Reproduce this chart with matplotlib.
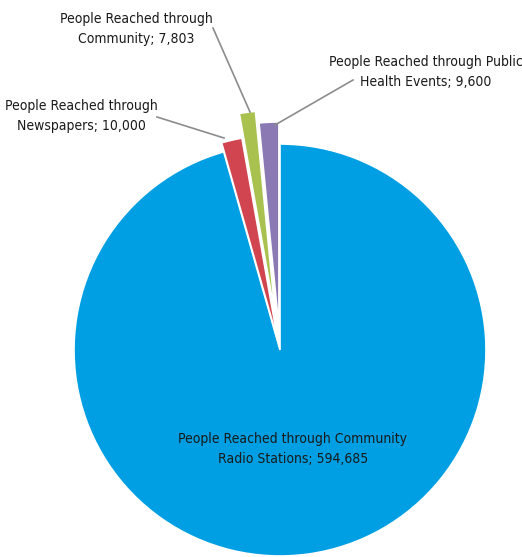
import matplotlib
matplotlib.use("Agg")
import matplotlib.pyplot as plt

# data
labels = [
    "People Reached through Community\nRadio Stations; 594,685",
    "People Reached through\nNewspapers; 10,000",
    "People Reached through\nCommunity; 7,803",
    "People Reached through Public\nHealth Events; 9,600",
]
values = [594685, 10000, 7803, 9600]
colors = ["#009FE3", "#D0454F", "#A8C14F", "#8B79B4"]
explode = [0.0, 0.045, 0.165, 0.107]

plt.rcParams["font.family"] = ["DejaVu Sans"]
plt.rcParams["font.stretch"] = "condensed"

W, H = 522, 557
fig = plt.figure(figsize=(W / 100, H / 100), dpi=100)
ax = fig.add_axes([0, 0, 1, 1])

cx, cy, r = 280, H - 350, 206
# explode is in data units here, so scale it by the radius
wedges, _ = ax.pie(values, colors=colors, explode=[e * r for e in explode],
                   startangle=90, counterclock=False, center=(cx, cy), radius=r,
                   wedgeprops=dict(edgecolor="white", linewidth=1.2))
ax.set_xlim(0, W)
ax.set_ylim(0, H)
ax.set_aspect("equal")
ax.axis("off")

fs = 10
txt = dict(fontsize=fs, color="#1a1a1a", linespacing=1.55,
           fontstretch="condensed", ha="center", va="center")
# label for the big slice sits inside it
ax.text(293, H - 449, labels[0], **txt)

# outside labels with leader lines (text position, line start, line end)
outside = [
    (1, (81, H - 116), (157, H - 117), (224, H - 138)),
    (2, (136, H - 29), (213, H - 28), (250, H - 112)),
    (3, (426, H - 72), (353, H - 80), (275, H - 125)),
]
for i, tpos, p0, p1 in outside:
    ax.text(tpos[0], tpos[1], labels[i], **txt)
    ax.plot([p0[0], p1[0]], [p0[1], p1[1]], color="#8c8c8c", linewidth=1.2)

fig.savefig("out.png", dpi=100)
plt.close(fig)
